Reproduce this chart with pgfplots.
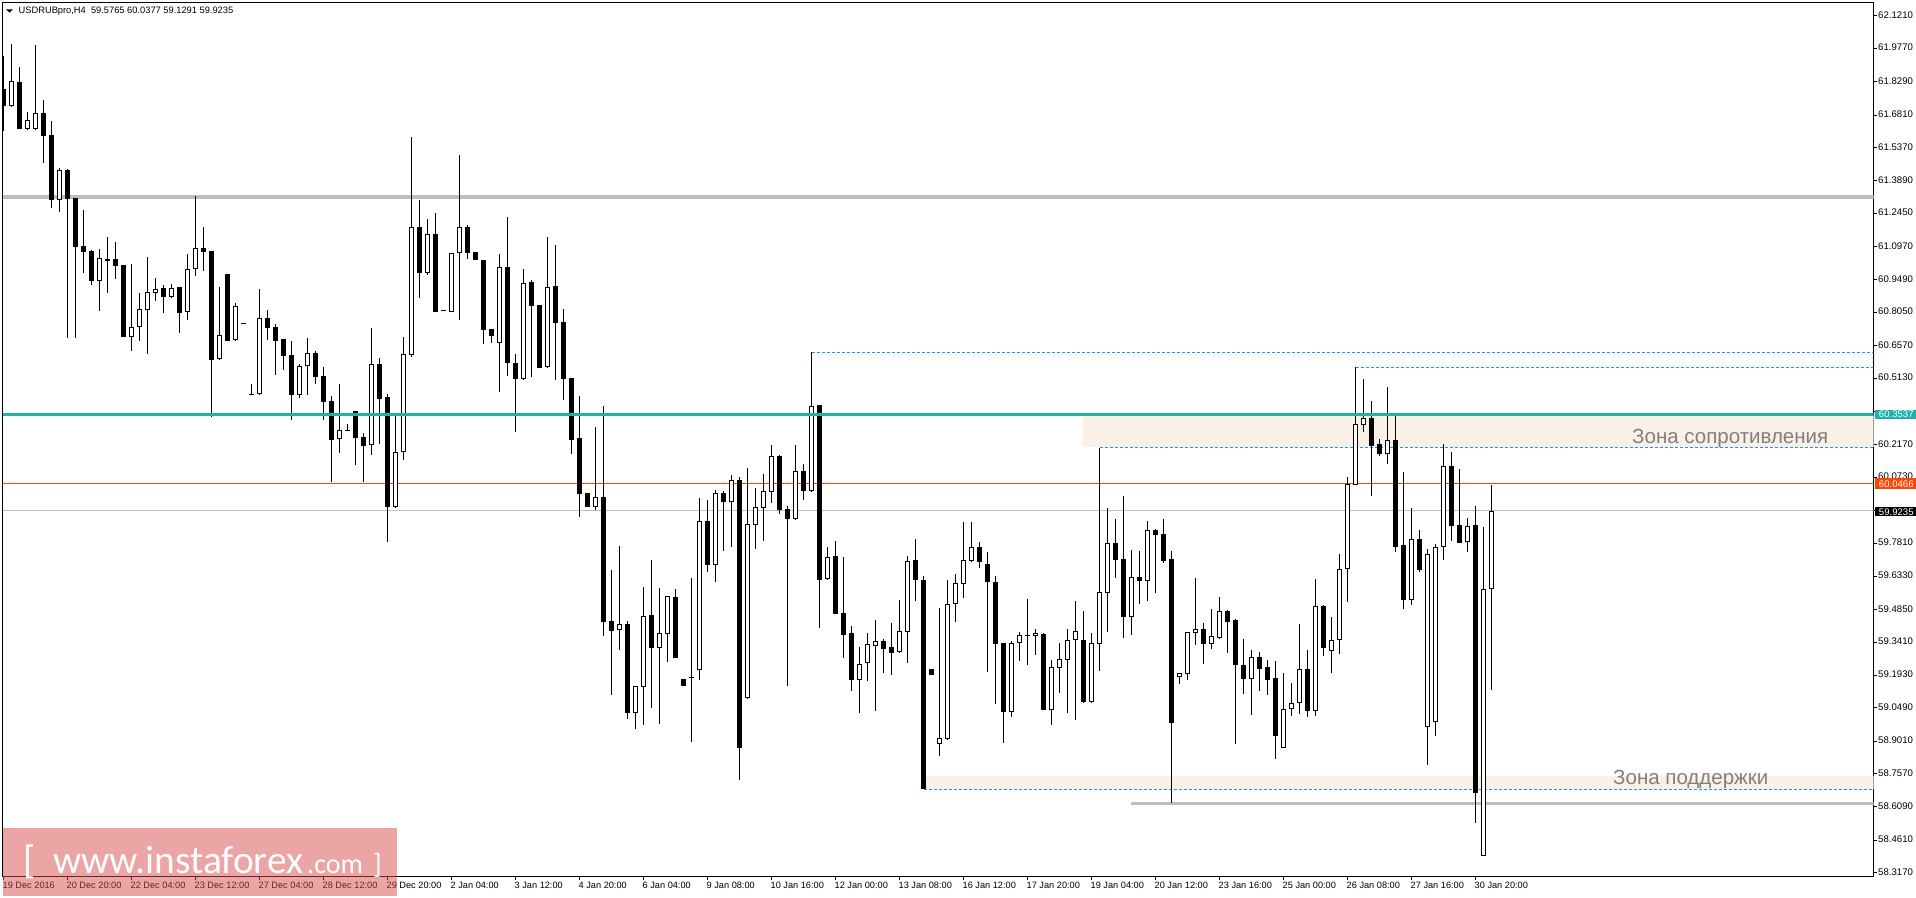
\documentclass[border=0pt]{standalone}
\usepackage{pgfplots}
\usepackage{pgfplotstable}
\pgfplotsset{compat=1.18}
\usepackage{fontspec}
\setmainfont{Liberation Sans}
\newfontfamily\wmfont{Carlito}
\definecolor{zone}{HTML}{FAF0E6}
\definecolor{silverline}{HTML}{BEBEBE}
\definecolor{tealline}{HTML}{20B2AA}
\definecolor{orangeline}{HTML}{FF4500}
\definecolor{dashblue}{HTML}{1E90FF}
\definecolor{wmred}{HTML}{D84B4B}
\pgfplotstableread{
k o h l c
1 61.723 61.997 61.721 61.831
3 61.621 61.695 61.619 61.658
4 61.621 61.992 61.619 61.689
7 61.305 61.446 61.252 61.436
12 60.946 61.086 60.813 61.045
16 60.697 61.020 60.635 60.739
17 60.741 60.892 60.679 60.819
18 60.817 61.051 60.622 60.894
19 60.889 60.958 60.857 60.907
21 60.875 60.931 60.873 60.912
23 60.805 61.064 60.773 60.996
24 60.996 61.322 60.968 61.090
27 60.597 60.919 60.596 60.703
29 60.681 60.845 60.680 60.832
32 60.441 60.909 60.440 60.779
37 60.440 60.576 60.426 60.566
38 60.568 60.691 60.440 60.623
42 60.241 60.487 60.182 60.281
46 60.215 60.736 60.173 60.575
49 59.942 60.346 59.941 60.184
50 60.184 60.696 60.150 60.619
51 60.617 61.584 60.608 61.183
53 60.981 61.220 60.972 61.152
56 60.808 61.067 60.808 61.067
57 61.067 61.504 60.773 61.183
62 60.670 61.064 60.452 61.005
65 60.511 60.996 60.509 60.934
68 60.564 61.140 60.559 60.916
74 59.942 60.296 59.929 59.984
77 59.394 59.766 59.306 59.420
79 59.028 59.145 58.955 59.145
80 59.143 59.586 58.973 59.456
82 59.316 59.580 58.977 59.380
83 59.378 59.544 59.253 59.544
87 59.218 59.980 59.174 59.877
89 59.685 60.015 59.609 60.002
91 59.965 60.082 59.763 60.060
93 59.094 60.114 59.093 59.864
94 59.862 60.025 59.754 59.940
95 59.938 60.087 59.790 60.011
96 60.009 60.216 59.959 60.166
99 59.889 60.216 59.888 60.099
101 60.013 60.628 60.008 60.388
103 59.620 59.762 59.617 59.718
107 59.174 59.319 59.028 59.243
108 59.247 59.381 59.168 59.331
109 59.325 59.439 59.035 59.345
112 59.298 59.528 59.294 59.389
113 59.387 59.722 59.248 59.700
117 58.890 59.493 58.835 58.914
118 58.912 59.617 58.908 59.509
119 59.512 59.642 59.430 59.602
120 59.600 59.873 59.537 59.704
121 59.703 59.874 59.701 59.762
126 59.032 59.346 59.009 59.336
127 59.336 59.386 59.257 59.371
129 59.370 59.399 59.284 59.380
131 59.041 59.262 58.973 59.229
132 59.227 59.337 59.115 59.265
133 59.263 59.399 59.026 59.349
134 59.352 59.524 58.995 59.389
136 59.076 59.381 59.072 59.336
137 59.334 60.204 59.213 59.562
138 59.560 59.936 59.386 59.780
141 59.454 59.750 59.373 59.629
143 59.614 59.879 59.524 59.838
147 59.188 59.203 59.155 59.203
148 59.201 59.385 59.173 59.385
149 59.383 59.626 59.328 59.398
151 59.334 59.488 59.310 59.367
152 59.361 59.541 59.355 59.478
156 59.179 59.306 59.017 59.274
160 58.872 59.204 58.872 59.043
161 59.043 59.160 59.013 59.069
162 59.072 59.421 59.022 59.220
164 59.037 59.621 59.013 59.500
166 59.303 59.453 59.204 59.349
167 59.352 59.732 59.290 59.664
168 59.667 60.074 59.519 60.042
169 60.040 60.561 60.040 60.308
170 60.306 60.509 60.274 60.335
173 60.178 60.474 60.132 60.237
176 59.529 59.936 59.506 59.798
178 58.963 59.754 58.797 59.731
179 58.985 59.777 58.926 59.762
180 59.762 60.221 59.706 60.122
183 59.784 59.892 59.741 59.855
185 58.393 59.852 58.393 59.576
186 59.5765 60.0377 59.1291 59.9235
}\bull
\pgfplotstableread{
k o h l c
0 61.797 61.943 61.612 61.723
2 61.828 61.895 61.619 61.621
5 61.689 61.748 61.470 61.590
6 61.593 61.655 61.270 61.304
8 61.437 61.442 60.693 61.310
9 61.313 61.313 60.693 61.097
10 61.100 61.260 60.981 61.075
11 61.076 61.082 60.927 60.946
13 61.042 61.140 60.892 61.034
14 61.042 61.118 60.955 61.012
15 61.014 61.014 60.696 60.696
20 60.913 60.927 60.804 60.873
22 60.918 60.918 60.715 60.804
25 61.090 61.184 60.990 61.075
26 61.078 61.078 60.342 60.595
28 60.975 60.975 60.679 60.679
30 60.759 60.759 60.755 60.755
31 60.443 60.487 60.439 60.439
33 60.780 60.816 60.684 60.737
34 60.740 60.753 60.528 60.679
35 60.687 60.687 60.551 60.613
36 60.616 60.678 60.329 60.440
39 60.623 60.634 60.488 60.519
40 60.521 60.563 60.329 60.408
41 60.410 60.434 60.053 60.240
43 60.283 60.309 60.279 60.279
44 60.366 60.366 60.129 60.249
45 60.250 60.269 60.053 60.213
47 60.576 60.602 60.222 60.422
48 60.428 60.443 59.787 59.942
52 61.183 61.304 60.870 60.981
54 61.153 61.245 60.808 60.808
55 60.816 60.816 60.812 60.812
58 61.183 61.193 61.042 61.070
59 61.073 61.073 61.038 61.038
60 61.036 61.036 60.665 60.728
61 60.731 60.731 60.669 60.700
63 61.005 61.229 60.523 60.582
64 60.579 60.620 60.275 60.511
66 60.939 60.949 60.519 60.835
67 60.836 60.839 60.559 60.559
69 60.921 61.104 60.506 60.759
70 60.761 60.820 60.417 60.511
71 60.512 60.512 60.178 60.240
72 60.247 60.434 59.898 60.000
73 60.003 60.003 59.942 59.942
75 59.985 60.389 59.370 59.432
76 59.433 59.661 59.106 59.390
78 59.421 59.433 59.000 59.028
81 59.461 59.704 59.050 59.316
84 59.541 59.577 59.270 59.270
85 59.177 59.177 59.146 59.146
86 59.187 59.624 58.899 59.183
88 59.879 59.971 59.652 59.683
90 60.003 60.012 59.747 59.963
92 60.061 60.073 58.729 58.872
97 60.167 60.172 59.910 59.929
98 59.931 59.945 59.146 59.888
100 60.101 60.132 59.972 60.013
102 60.394 60.394 59.405 59.618
104 59.723 59.790 59.466 59.466
105 59.470 59.719 59.270 59.373
106 59.381 59.413 59.124 59.173
110 59.346 59.355 59.205 59.310
111 59.319 59.426 59.195 59.293
114 59.706 59.799 59.524 59.618
115 59.617 59.635 58.687 58.688
116 59.222 59.222 59.195 59.195
122 59.763 59.786 59.670 59.697
123 59.688 59.741 59.208 59.608
124 59.608 59.635 59.066 59.333
125 59.337 59.337 58.893 59.031
128 59.373 59.532 59.239 59.369
130 59.377 59.381 59.040 59.040
135 59.350 59.479 59.071 59.075
139 59.781 59.888 59.626 59.706
140 59.710 59.990 59.359 59.453
142 59.630 59.746 59.510 59.612
144 59.839 59.843 59.559 59.817
145 59.821 59.888 59.692 59.701
146 59.710 59.746 58.625 58.982
150 59.399 59.426 59.244 59.333
153 59.479 59.484 59.293 59.430
154 59.439 59.444 58.889 59.239
155 59.239 59.355 59.111 59.177
157 59.275 59.297 59.124 59.222
158 59.230 59.262 59.106 59.173
159 59.182 59.257 58.822 58.924
163 59.222 59.306 59.009 59.035
165 59.501 59.506 59.279 59.316
171 60.336 60.412 59.990 60.212
172 60.221 60.243 60.167 60.176
174 60.238 60.345 59.741 59.763
175 59.772 60.096 59.488 59.528
177 59.799 59.839 59.652 59.661
181 60.123 60.185 59.790 59.857
182 59.861 60.110 59.781 59.781
184 59.861 59.945 58.539 58.672
}\bear
\begin{document}
\begin{tikzpicture}[x=1pt,y=1pt]
\path[use as bounding box] (0,0) rectangle (1916,897);
\begin{axis}[
  at={(2.5pt,20.5pt)}, anchor=south west,
  scale only axis, width=1871pt, height=874pt,
  xmin=-0.125, xmax=233.75, ymin=58.3004, ymax=62.1809,
  clip=true,
  axis line style={line width=1pt},
  every tick/.style={black, line width=1pt},
  major tick length=3pt,
  tick align=outside,
  xtick pos=left, ytick pos=right,
  yticklabel pos=right,
  xtick={0,8,16,24,32,40,48,56,64,72,80,88,96,104,112,120,128,136,144,152,160,168,176,184},
  xticklabels={19 Dec 2016,20 Dec 20:00,22 Dec 04:00,23 Dec 12:00,27 Dec 04:00,28 Dec 12:00,29 Dec 20:00,2 Jan 04:00,3 Jan 12:00,4 Jan 20:00,6 Jan 04:00,9 Jan 08:00,10 Jan 16:00,12 Jan 00:00,13 Jan 08:00,16 Jan 12:00,17 Jan 20:00,19 Jan 04:00,20 Jan 12:00,23 Jan 16:00,25 Jan 00:00,26 Jan 08:00,27 Jan 16:00,30 Jan 20:00},
  ytick={62.121,61.977,61.829,61.681,61.537,61.389,61.245,61.097,60.949,60.805,60.657,60.513,60.365,60.217,60.073,59.925,59.781,59.633,59.485,59.341,59.193,59.049,58.901,58.757,58.609,58.461,58.317},
  yticklabels={62.1210,61.9770,61.8290,61.6810,61.5370,61.3890,61.2450,61.0970,60.9490,60.8050,60.6570,60.5130,{},60.2170,60.0730,{},59.7810,59.6330,59.4850,59.3410,59.1930,59.0490,58.9010,58.7570,58.6090,58.4610,58.3170},
  x tick label style={font=\fontsize{9.2}{10}\selectfont, anchor=north west, inner xsep=0pt, inner ysep=0pt, xshift=-1pt, yshift=-2.5pt},
  y tick label style={font=\fontsize{9.6}{10}\selectfont, anchor=west, inner xsep=0pt, inner ysep=0pt, xshift=1.5pt, yshift=0.8pt},
]
% zones
\addplot[fill=zone, draw=none, forget plot] coordinates {(134.94,60.3463)(233.75,60.3463)(233.75,60.2087)(134.94,60.2087)} -- cycle;
\addplot[fill=zone, draw=none, forget plot] coordinates {(114.94,58.7466)(233.75,58.7466)(233.75,58.6867)(114.94,58.6867)} -- cycle;
% horizontal levels behind the candles
\addplot[silverline, line width=4pt, forget plot] coordinates {(-0.125,61.319)(233.75,61.319)};
\addplot[silverline, line width=3pt, forget plot] coordinates {(140.9,58.625)(233.75,58.625)};
\addplot[dashblue, line width=1pt, dash pattern=on 3pt off 2pt, forget plot] coordinates {(101,60.628)(233.75,60.628)};
\addplot[dashblue, line width=1pt, dash pattern=on 3pt off 2pt, forget plot] coordinates {(169,60.561)(233.75,60.561)};
\addplot[dashblue, line width=1pt, dash pattern=on 3pt off 2pt, forget plot] coordinates {(137,60.204)(233.75,60.204)};
\addplot[dashblue, line width=1pt, dash pattern=on 3pt off 2pt, forget plot] coordinates {(115,58.6875)(233.75,58.6875)};
\addplot[orangeline, line width=1pt, forget plot] coordinates {(-0.125,60.0466)(233.75,60.0466)};
\addplot[silverline, line width=1pt, forget plot] coordinates {(-0.125,59.9235)(233.75,59.9235)};
% wicks
\addplot[draw=none, mark=none, forget plot, error bars/.cd, y dir=both, y explicit, error mark=none, error bar style={black, line width=1pt}]
  table[x=k, y=o, y error plus expr=\thisrow{h}-\thisrow{o}, y error minus expr=\thisrow{o}-\thisrow{l}] {\bull};
\addplot[draw=none, mark=none, forget plot, error bars/.cd, y dir=both, y explicit, error mark=none, error bar style={black, line width=1pt}]
  table[x=k, y=o, y error plus expr=\thisrow{h}-\thisrow{o}, y error minus expr=\thisrow{o}-\thisrow{l}] {\bear};
% black bodies
\addplot[draw=none, mark=none, forget plot, error bars/.cd, y dir=minus, y explicit, error mark=none, error bar style={black, line width=5pt}]
  table[x=k, y=o, y error minus expr=\thisrow{o}-\thisrow{c}] {\bear};
% white bodies: black outline, then a white core one pixel shorter at each end
\addplot[draw=none, mark=none, forget plot, error bars/.cd, y dir=plus, y explicit, error mark=none, error bar style={black, line width=5pt}]
  table[x=k, y=o, y error plus expr=\thisrow{c}-\thisrow{o}] {\bull};
\addplot[draw=none, mark=none, forget plot, error bars/.cd, y dir=plus, y explicit, error mark=none, error bar style={white, line width=3pt}]
  table[x=k, y expr=\thisrow{o}+0.00444, y error plus expr=\thisrow{c}-\thisrow{o}-0.00888] {\bull};
% teal level on top
\addplot[tealline, line width=3pt, forget plot] coordinates {(-0.125,60.3537)(233.75,60.3537)};
\end{axis}
% price tags
\fill[tealline] (1875,897-410) rectangle (1916,897-419);
\fill[orangeline] (1875,897-478) rectangle (1916,897-489);
\fill[black] (1875,897-507) rectangle (1916,897-516);
\node[anchor=base west, inner sep=0pt, white, font=\fontsize{9.6}{10}\selectfont] at (1878.7,897-418) {60.3537};
\node[anchor=base west, inner sep=0pt, white, font=\fontsize{9.6}{10}\selectfont] at (1878.7,897-487.5) {60.0466};
\node[anchor=base west, inner sep=0pt, white, font=\fontsize{9.6}{10}\selectfont] at (1878.7,897-515.5) {59.9235};
% zone captions
\node[anchor=base west, inner sep=0pt, text=gray, font=\fontsize{20.5}{24}\selectfont] at (1632,897-444) {Зона сопротивления};
\node[anchor=base west, inner sep=0pt, text=gray, font=\fontsize{20.5}{24}\selectfont] at (1613,897-784) {Зона поддержки};
% header
\fill[black] (6,897-9.3) -- (13,897-9.3) -- (9.5,897-12.7) -- cycle;
\node[anchor=base west, inner sep=0pt, font=\fontsize{9.3}{10}\selectfont] at (18.5,897-14) {USDRUBpro,H4\ \ 59.5765 60.0377 59.1291 59.9235};
% watermark
\fill[wmred, opacity=0.5] (3,897-827.7) rectangle (397,897-896);
\node[anchor=base west, inner sep=0pt, white, font=\wmfont\fontsize{39.5}{44}\selectfont] at (23,897-873) {[};
\node[anchor=base west, inner sep=0pt, white, font=\wmfont\fontsize{39.5}{44}\selectfont] at (53,897-873) {www.instaforex};
\node[anchor=base west, inner sep=0pt, white, font=\wmfont\fontsize{28}{30}\selectfont] at (307,897-873) {.com};
\node[anchor=base west, inner sep=0pt, white, font=\wmfont\fontsize{28}{30}\selectfont] at (373,897-873) {]};
\end{tikzpicture}
\end{document}
